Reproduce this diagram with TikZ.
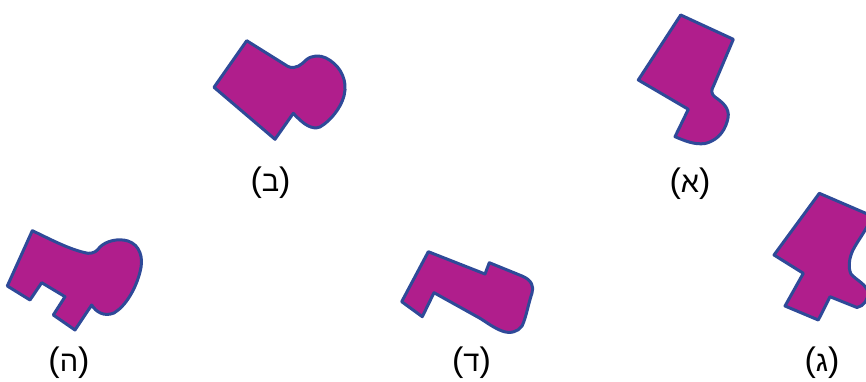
\documentclass[tikz,border=0pt]{standalone}
\usepackage{fontspec}
\newfontfamily\hebfont[Script=Hebrew]{Liberation Sans}
\newfontfamily\parfont{Liberation Sans}
\definecolor{shapefill}{RGB}{176,30,140}
\definecolor{shapeline}{RGB}{46,74,152}
\newcommand\plabel[1]{{\parfont\fontsize{34}{38}\selectfont(}{\hebfont\fontsize{29}{32}\selectfont #1}{\parfont\fontsize{34}{38}\selectfont)}}
\begin{document}
\begin{tikzpicture}[x=1pt,y=-1pt,
  piece/.style={fill=shapefill,draw=shapeline,line width=3pt,line join=round},
  lbl/.style={inner sep=0pt}]
\useasboundingbox (0,0) rectangle (866,382);
\begin{scope}
\clip (0,0) rectangle (866,382);
% (b)
\draw[piece] (246.7,40.7) -- (288,66.5) .. controls (296,70) and (302,64) .. (306,60)
  .. controls (312,55) and (320,55) .. (326,58) .. controls (338,64) and (346,76) .. (345,90)
  .. controls (344,104) and (332,120) .. (320,127) .. controls (312,130) and (304,125) .. (293.3,113.3)
  -- (275,139.3) -- (214,87.3) -- cycle;
% (a)
\draw[piece] (680.7,15) -- (733.3,39.3) -- (713.5,86) .. controls (711,90) and (711,94) .. (715,97)
  .. controls (722,102) and (730,108) .. (728,118) .. controls (726,128) and (720,140) .. (705,143.5)
  .. controls (695,145) and (685,141) .. (675,136.7) -- (688.3,109.3) -- (638.3,80) -- cycle;
% (h)
\draw[piece] (32.3,230.7) .. controls (50,239) and (70,250) .. (88,253.3)
  .. controls (94,253.5) and (97,251) .. (100,247) .. controls (106,241) and (118,238) .. (128,241)
  .. controls (140,245) and (144,258) .. (140,272) .. controls (136,288) and (126,306) .. (114,313)
  .. controls (104,317) and (96,312) .. (91.7,305) -- (75,330) -- (53.3,315) -- (65,296.7)
  -- (41.7,282.7) -- (30,300) -- (7.3,286) -- cycle;
% (d)
\draw[piece] (428.3,251.7) -- (485,274) -- (489.3,262.7) -- (522,276)
  .. controls (532,280) and (534,287) .. (532,293) .. controls (528,305) and (526,318) .. (522,326)
  .. controls (518,332) and (510,334) .. (502,331) .. controls (494,328) and (486,322) .. (480,318.3)
  -- (434,292.7) -- (422.3,316.7) -- (401.7,301.7) -- cycle;
% (g)
\draw[piece] (819.3,193.3) -- (872,216) .. controls (868,228) and (858,240) .. (853,250)
  .. controls (849,258) and (848,268) .. (851,274) .. controls (856,280) and (866,284) .. (868,292)
  .. controls (868,300) and (864,306) .. (857,307.5) -- (830,296.7) -- (818.3,320) -- (785,306)
  -- (803.3,273.3) -- (774,255) -- cycle;
\end{scope}
\node[lbl] (labB) at (270.5,183) {\plabel{ב}};
\node[lbl] (labA) at (690,184) {\plabel{א}};
\node[lbl] (labH) at (69,363) {\plabel{ה}};
\node[lbl] (labD) at (471.5,363) {\plabel{ד}};
\node[lbl] (labG) at (822,363) {\plabel{ג}};
\end{tikzpicture}
\end{document}
